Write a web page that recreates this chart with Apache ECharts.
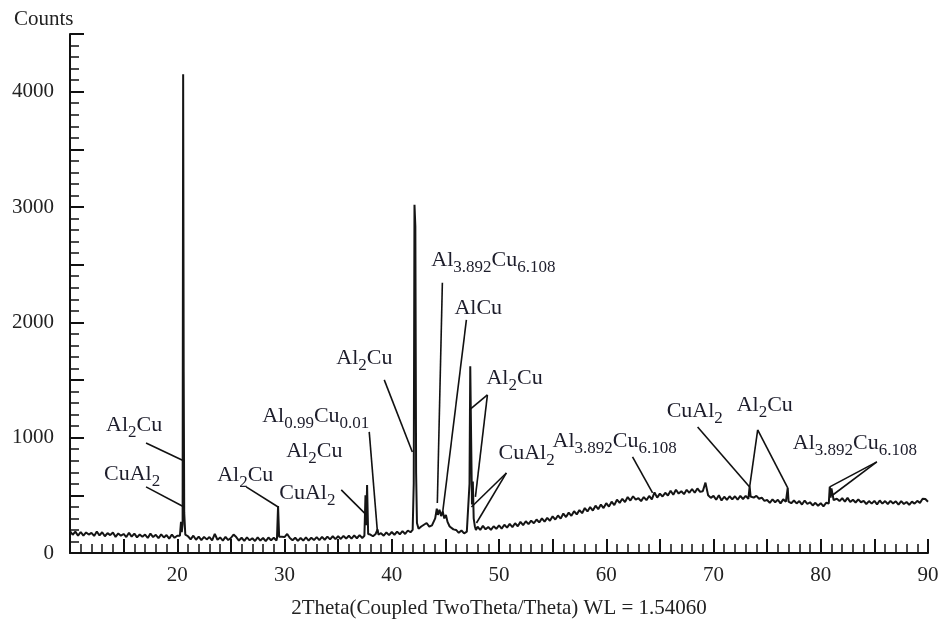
<!DOCTYPE html>
<html>
<head>
<meta charset="utf-8">
<script src="https://cdn.jsdelivr.net/npm/echarts@6/dist/echarts.min.js"></script>
<style>
  html, body { margin: 0; padding: 0; background: #fff; }
  #chart { width: 944px; height: 624px; }
</style>
</head>
<body>
<div id="chart"></div>
<script>
// ---------------- DATA ----------------
// background scan (2Theta from 10 to 90, every 0.25 degree), counts
const scanStart = 10;
const scanStep = 0.25;
const backgroundCounts = [
  190,158,185,150, 182,150,178,160, 175,148,186,152, 180,145,172,155, 178,140,170,150,  // 10-14
  165,138,175,142, 168,135,160,140, 160,130,168,138, 158,128,162,135, 155,125,160,132,  // 15-19
  150,128,150,140, 145,118,150,115, 142,112,140,118, 138,110,165,115, 135,108,140,112,  // 20-24
  130,160,138,108, 132,105,135,110, 128,104,136,108, 130,102,134,110, 132,108,125,140,  // 25-29
  138,165,130,110, 132,105,130,108, 135,108,132,112, 138,112,140,115, 142,118,145,120,  // 30-34
  145,122,148,125, 150,125,152,128, 155,130,150,140, 160,145,165,148, 172,150,178,155,  // 35-39
  182,158,185,162, 190,165,195,180, 205,195,210,230, 245,260,228,240, 230,300,320,300,  // 40-44
  300,260,220,205, 200,175,195,170, 185,175,190,200, 228,200,235,205, 225,200,232,210,  // 45-49
  240,212,245,220, 252,225,258,232, 270,242,275,250, 280,258,290,265, 300,272,305,280,  // 50-54
  318,290,325,298, 342,312,350,322, 362,335,372,345, 390,360,398,368, 410,380,420,390,  // 55-59
  432,402,445,415, 462,435,470,442, 485,455,492,462, 475,450,485,458, 495,465,525,480,  // 60-64
  515,490,522,498, 540,505,548,515, 535,510,548,522, 555,522,560,530, 535,610,500,478,  // 65-69
  495,462,500,455, 488,460,492,465, 492,462,495,468, 495,470,505,480, 495,470,480,452,  // 70-74
  460,435,465,440, 462,430,465,445, 462,432,455,430, 450,420,455,425, 440,412,435,410,  // 75-79
  432,405,435,440, 480,455,470,450, 475,445,478,442, 462,438,465,440, 452,425,450,428,  // 80-84
  452,422,455,428, 450,425,452,430, 448,420,450,425, 442,418,445,428, 452,435,470,468,  // 85-89
  445                                                                                  // 90
];

// diffraction peaks: [2Theta, counts]
const peak20 = [[20.25,150],[20.35,270],[20.42,180],[20.5,250],[20.55,4150],[20.6,1570],[20.65,350],[20.75,160]];
const peak29 = [[29.3,130],[29.4,408],[29.5,140]];
const peak37 = [[37.45,150],[37.55,500],[37.62,240],[37.7,590],[37.8,165]];
const peak38 = [[38.6,160],[38.68,205],[38.76,160]];
const peak42 = [[41.95,200],[42.05,600],[42.12,3020],[42.2,2830],[42.27,700],[42.35,260]];
const peak44 = [[43.9,230],[44.05,300],[44.2,385],[44.3,330],[44.45,375],[44.6,320],[44.75,360],[44.9,300],[45.05,330],[45.2,270],[45.4,230]];
const peak47 = [[47.15,185],[47.25,600],[47.32,1620],[47.4,1000],[47.48,420],[47.56,620],[47.64,300],[47.75,230],[47.85,200]];
const peak73 = [[73.28,480],[73.37,575],[73.46,490]];
const peak76 = [[76.85,450],[76.92,565],[77.0,445]];
const peak81 = [[80.75,430],[80.84,575],[80.92,480],[81.0,560],[81.1,510],[81.2,460]];
const peakGroups = [peak20, peak29, peak37, peak38, peak42, peak44, peak47, peak73, peak76, peak81];

// axis ticks
const xMin = 10, xMax = 90, xMajor = 5, xLabelEvery = 10;
const yMin = 0, yMax = 4500, yMajor = 500, yLabelEvery = 1000;

// phase annotations: text ({} = subscript), label anchor [2Theta, counts], leader lines
const annotations = [
  { text: 'Al{2}Cu',           at: [13.36, 1093], leaders: [[[17.09, 954], [20.64, 798]]] },
  { text: 'CuAl{2}',           at: [13.17, 668],  leaders: [[[17.09, 573], [20.64, 399]]] },
  { text: 'Al{2}Cu',           at: [23.72, 659],  leaders: [[[26.43, 573], [29.41, 399]]] },
  { text: 'Al{2}Cu',           at: [30.16, 868],  leaders: [] },
  { text: 'CuAl{2}',           at: [29.51, 503],  leaders: [[[35.29, 547], [37.63, 330]]] },
  { text: 'Al{0.99}Cu{0.01}',  at: [27.92, 1171], leaders: [[[37.9, 1050], [38.65, 200]]] },
  { text: 'Al{2}Cu',           at: [34.83, 1675], leaders: [[[39.3, 1501], [41.92, 876]]] },
  { text: 'Al{3.892}Cu{6.108}',at: [43.69, 2525], leaders: [[[44.72, 2343], [44.25, 434]]] },
  { text: 'AlCu',              at: [45.84, 2108], leaders: [[[46.96, 2022], [44.72, 330]]] },
  { text: 'Al{2}Cu',           at: [48.83, 1501], leaders: [[[48.92, 1371], [47.24, 1241]], [[48.92, 1371], [47.8, 486]]] },
  { text: 'CuAl{2}',           at: [49.95, 850],  leaders: [[[50.69, 694], [47.43, 399]], [[50.69, 694], [47.9, 260]]] },
  { text: 'Al{3.892}Cu{6.108}',at: [54.99, 954],  leaders: [[[62.45, 833], [64.32, 521]]] },
  { text: 'CuAl{2}',           at: [65.63, 1215], leaders: [[[68.52, 1093], [73.37, 573]]] },
  { text: 'Al{2}Cu',           at: [72.16, 1267], leaders: [[[74.12, 1067], [73.37, 573]], [[74.12, 1067], [76.92, 564]]] },
  { text: 'Al{3.892}Cu{6.108}',at: [77.39, 936],  leaders: [[[85.23, 790], [80.84, 573]], [[85.23, 790], [81.12, 503]]] }
];

// ---------------- BUILD ----------------
const scan = [];
backgroundCounts.forEach((c, i) => {
  const x = scanStart + i * scanStep;
  const inPeak = peakGroups.some(g => x >= g[0][0] && x <= g[g.length - 1][0]);
  if (!inPeak) scan.push([x, c]);
});
peakGroups.forEach(g => g.forEach(p => scan.push(p)));
scan.sort((a, b) => a[0] - b[0]);

function toRich(t) {
  let out = '';
  const re = /([^{}]+)|\{([^}]*)\}/g;
  let m;
  while ((m = re.exec(t)) !== null) {
    if (m[1] !== undefined) out += '{n|' + m[1] + '}';
    else out += '{s|' + m[2] + '}';
  }
  return out;
}

const serif = '"Liberation Serif", "DejaVu Serif", serif';
const annColor = '#1d1d2b';

const markPoints = annotations.map(a => ({
  coord: a.at,
  symbol: 'circle',
  symbolSize: 0,
  label: {
    show: true,
    position: 'right',
    distance: 0,
    formatter: toRich(a.text),
    rich: {
      n: { fontSize: 22, fontFamily: serif, color: annColor, lineHeight: 26, verticalAlign: 'top', padding: [0, 0, 0, 0] },
      s: { fontSize: 17, fontFamily: serif, color: annColor, lineHeight: 20, verticalAlign: 'top', padding: [10, 0, 0, 0] }
    }
  }
}));

const markLines = [];
annotations.forEach(a => a.leaders.forEach(l => {
  markLines.push([{ coord: l[0] }, { coord: l[1] }]);
}));

const chart = echarts.init(document.getElementById('chart'), null, { renderer: 'canvas' });
const axisColor = '#111';
chart.setOption({
  animation: false,
  backgroundColor: '#fff',
  grid: { left: 70, right: 16, top: 34, bottom: 71, containLabel: false },
  graphic: [{
    type: 'text', left: 14, top: 9,
    style: { text: 'Counts', font: '21px ' + serif, fill: '#222' }
  }],
  xAxis: {
    type: 'value', min: xMin, max: xMax, interval: xMajor,
    name: '2Theta(Coupled TwoTheta/Theta) WL = 1.54060',
    nameLocation: 'middle', nameGap: 45,
    nameTextStyle: { fontSize: 21, fontFamily: serif, color: '#222' },
    axisLine: { show: true, onZero: false, lineStyle: { color: axisColor, width: 2 } },
    axisTick: { show: true, inside: true, length: 14, lineStyle: { color: axisColor, width: 2 } },
    minorTick: { show: true, splitNumber: 5, length: 9, lineStyle: { color: axisColor, width: 1.5 } },
    axisLabel: {
      margin: 12, fontSize: 21, fontFamily: serif, color: '#222',
      formatter: v => (v % xLabelEvery === 0 && v !== xMin) ? String(v) : ''
    },
    splitLine: { show: false }, minorSplitLine: { show: false }
  },
  yAxis: {
    type: 'value', min: yMin, max: yMax, interval: yMajor,
    axisLine: { show: true, lineStyle: { color: axisColor, width: 2 } },
    axisTick: { show: true, inside: true, length: 14, lineStyle: { color: axisColor, width: 2 } },
    minorTick: { show: true, splitNumber: 5, length: 9, lineStyle: { color: axisColor, width: 1.5 } },
    axisLabel: {
      margin: 16, fontSize: 21, fontFamily: serif, color: '#222',
      formatter: v => (v % yLabelEvery === 0) ? String(v) : ''
    },
    splitLine: { show: false }, minorSplitLine: { show: false }
  },
  series: [{
    type: 'line',
    data: scan,
    showSymbol: false,
    symbol: 'none',
    lineStyle: { color: '#151515', width: 2 },
    clip: false,
    markLine: {
      silent: true,
      symbol: ['none', 'none'],
      label: { show: false },
      lineStyle: { color: '#111', width: 1.6, type: 'solid' },
      emphasis: { disabled: true },
      data: markLines
    },
    markPoint: {
      silent: true,
      data: markPoints
    }
  }]
});
</script>
</body>
</html>
